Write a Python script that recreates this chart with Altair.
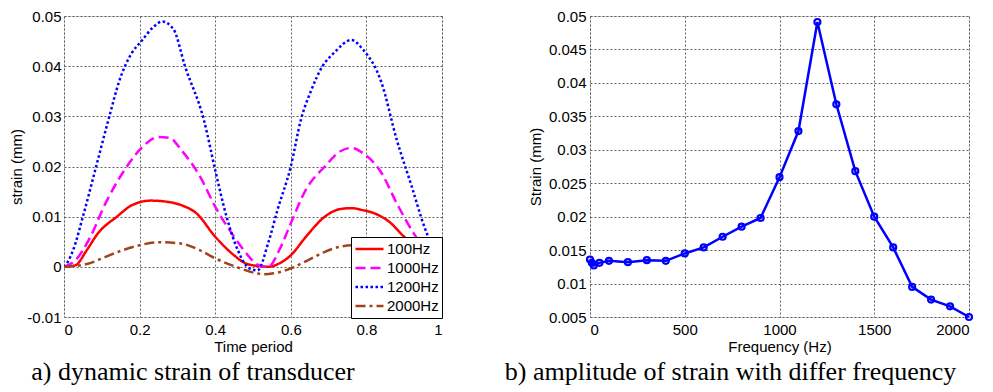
import altair as alt
import pandas as pd

# ---- left panel: dynamic strain over one period ----
t_100 = [0, 0.03, 0.06, 0.09, 0.14, 0.18, 0.23, 0.27, 0.31, 0.35, 0.40, 0.45, 0.48, 0.51, 0.54, 0.57, 0.60, 0.64, 0.69, 0.73, 0.76, 0.79, 0.82, 0.86, 0.90, 0.95, 1.0]
s_100 = [0, 0.0003, 0.0033, 0.0067, 0.0100, 0.0123, 0.0132, 0.0130, 0.0123, 0.0107, 0.0060, 0.0023, 0.0007, 0.0002, 0, 0.0007, 0.0023, 0.0060, 0.0100, 0.0115, 0.0117, 0.0113, 0.0107, 0.0090, 0.0060, 0.0030, 0]

t_1000 = [0, 0.03, 0.07, 0.11, 0.155, 0.20, 0.25, 0.28, 0.31, 0.36, 0.40, 0.45, 0.49, 0.51, 0.54, 0.57, 0.60, 0.64, 0.69, 0.73, 0.76, 0.79, 0.84, 0.88, 0.92, 0.96, 1.0]
s_1000 = [0, 0.0013, 0.0060, 0.0127, 0.0187, 0.0233, 0.0259, 0.0257, 0.0233, 0.0180, 0.0120, 0.0060, 0.0020, 0.0005, 0, 0.0034, 0.0087, 0.0154, 0.0200, 0.0230, 0.0237, 0.0227, 0.0187, 0.0127, 0.0073, 0.0030, 0]

t_1200 = [0, 0.01, 0.025, 0.05, 0.085, 0.12, 0.146, 0.18, 0.205, 0.235, 0.26, 0.29, 0.32, 0.37, 0.40, 0.43, 0.46, 0.49, 0.512, 0.54, 0.565, 0.60, 0.627, 0.653, 0.684, 0.715, 0.76, 0.79, 0.84, 0.88, 0.92, 0.95, 1.0]
s_1200 = [0, 0.0010, 0.0035, 0.0100, 0.0200, 0.0300, 0.0370, 0.0427, 0.0450, 0.0477, 0.0489, 0.0473, 0.0400, 0.0293, 0.0193, 0.0100, 0.0033, -0.0003, -0.0007, 0.0047, 0.0114, 0.0200, 0.0294, 0.0350, 0.0400, 0.0427, 0.0452, 0.0434, 0.0367, 0.0254, 0.0160, 0.0087, 0]

t_2000 = [0, 0.063, 0.11, 0.155, 0.20, 0.248, 0.305, 0.36, 0.40, 0.455, 0.51, 0.53, 0.555, 0.60, 0.645, 0.69, 0.73, 0.76, 0.80, 0.85, 0.90, 0.95, 1.0]
s_2000 = [0, 0.0006, 0.0020, 0.0033, 0.0043, 0.0049, 0.0047, 0.0033, 0.0017, 0, -0.0013, -0.0015, -0.0013, -0.0003, 0.0013, 0.0030, 0.0040, 0.0043, 0.0043, 0.0035, 0.0025, 0.0012, 0]

series_names = ["100Hz", "1000Hz", "1200Hz", "2000Hz"]
series_colors = ["#ff0000", "#ff00ff", "#0000ff", "#a0441c"]
series_dashes = [[1, 0], [10, 5], [2.5, 2.5], [10, 4, 3, 4]]

# ---- right panel: amplitude vs frequency ----
freq = [0, 10, 20, 50, 100, 200, 300, 400, 500, 600, 700, 800, 900, 1000, 1100, 1200, 1300, 1400, 1500, 1600, 1700, 1800, 1900, 2000]
amp = [0.0136, 0.0131, 0.0127, 0.0131, 0.0134, 0.0132, 0.0135, 0.0134, 0.0145, 0.0154, 0.0170, 0.0185, 0.0198, 0.0259, 0.0328, 0.0491, 0.0368, 0.0268, 0.0200, 0.0154, 0.0095, 0.0076, 0.0066, 0.0050]

left_x_ticks = [0, 0.2, 0.4, 0.6, 0.8, 1.0]
left_y_ticks = [-0.01, 0, 0.01, 0.02, 0.03, 0.04, 0.05]
right_x_ticks = [0, 500, 1000, 1500, 2000]
right_y_ticks = [0.005, 0.01, 0.015, 0.02, 0.025, 0.03, 0.035, 0.04, 0.045, 0.05]

rows = []
for name, ts, ss in zip(series_names, [t_100, t_1000, t_1200, t_2000], [s_100, s_1000, s_1200, s_2000]):
    for i, (t, s) in enumerate(zip(ts, ss)):
        rows.append({"series": name, "t": t, "strain": s, "order": i})
df_left = pd.DataFrame(rows)
df_right = pd.DataFrame({"freq": freq, "amp": amp})

SANS = "Liberation Sans"
SERIF = "Liberation Serif"
GRID = dict(grid=True, gridColor="#3a3a3a", gridDash=[2, 2], gridWidth=0.8, gridOpacity=1)
AX = dict(labelFont=SANS, labelFontSize=15, labelColor="black", titleFont=SANS,
          titleFontSize=15, titleFontWeight="normal", titleColor="black",
          ticks=False, domain=False, **GRID)

PANEL_H = 301

legend = alt.Legend(title=None, orient="none", legendX=287, legendY=PANEL_H - 80,
                    symbolType="stroke", symbolSize=784, symbolStrokeWidth=2.5,
                    clipHeight=18, labelFont=SANS, labelFontSize=15, labelColor="black",
                    strokeColor="black", fillColor="white", padding=3, rowPadding=1,
                    labelOffset=2, labelLimit=200)

left = alt.Chart(df_left).mark_line(strokeWidth=2.5, interpolate="monotone", clip=True).encode(
    x=alt.X("t:Q", title="Time period", scale=alt.Scale(domain=[0, 1], nice=False),
            axis=alt.Axis(values=left_x_ticks, format="~g", labelPadding=5, titlePadding=2, **AX)),
    y=alt.Y("strain:Q", title="strain (mm)", scale=alt.Scale(domain=[-0.01, 0.05], nice=False, zero=False),
            axis=alt.Axis(values=left_y_ticks, labelPadding=3, titlePadding=2,
                          labelExpr="datum.value < 0 ? '-' + format(-datum.value, '~g') : format(datum.value, '~g')", **AX)),
    color=alt.Color("series:N", scale=alt.Scale(domain=series_names, range=series_colors), legend=legend, sort=series_names),
    strokeDash=alt.StrokeDash("series:N", scale=alt.Scale(domain=series_names, range=series_dashes), legend=legend, sort=series_names),
    order="order:Q",
).properties(
    width=378, height=PANEL_H,
    title=alt.TitleParams("a) dynamic strain of transducer", orient="bottom", anchor="middle",
                          font=SERIF, fontSize=26, fontWeight="normal", color="black", dx=-60, offset=5),
)

right_base = alt.Chart(df_right).encode(
    x=alt.X("freq:Q", title="Frequency (Hz)", scale=alt.Scale(domain=[0, 2000], nice=False),
            axis=alt.Axis(values=right_x_ticks, format="d", labelPadding=5, titlePadding=2, **AX)),
    y=alt.Y("amp:Q", title="Strain (mm)", scale=alt.Scale(domain=[0.005, 0.05], nice=False, zero=False),
            axis=alt.Axis(values=right_y_ticks, format="~g", labelPadding=4, titlePadding=5, **AX)),
)
right = alt.layer(
    right_base.mark_line(color="#0000ff", strokeWidth=2.5),
    right_base.mark_point(color="#0000ff", filled=False, size=36, strokeWidth=2.2, opacity=1),
).properties(
    width=379, height=PANEL_H,
    title=alt.TitleParams("b) amplitude of strain with differ frequency", orient="bottom", anchor="middle",
                          font=SERIF, fontSize=26, fontWeight="normal", color="black", dx=-49, offset=5),
)

chart = alt.hconcat(left, right, spacing=61).properties(
    padding={"top": 0, "left": 1, "right": 2, "bottom": 0}
).configure_view(stroke="black", strokeWidth=1).configure(background="white")

chart.save("out.html", embed_options={"renderer": "svg", "actions": False})
